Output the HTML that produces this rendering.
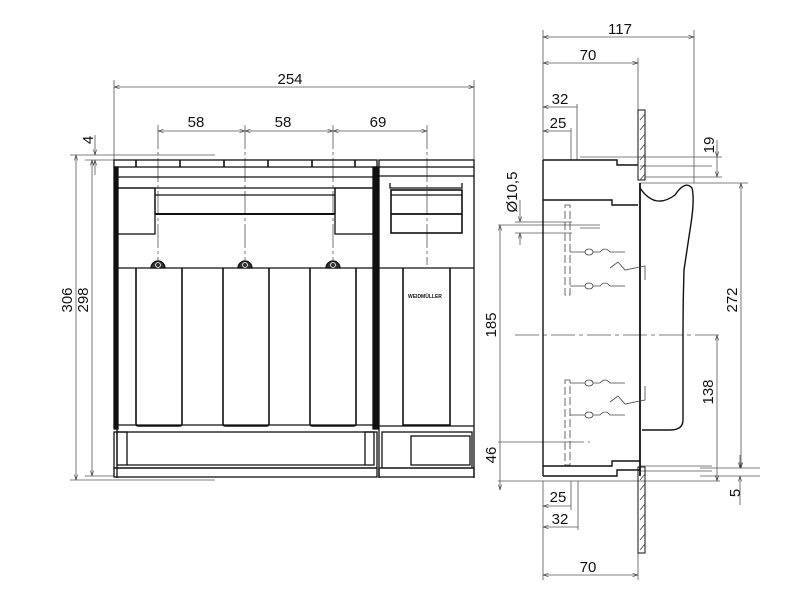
<!DOCTYPE html>
<html><head><meta charset="utf-8"><style>
html,body{margin:0;padding:0;background:#fff;}
svg{display:block}
text{font-family:"Liberation Sans",sans-serif;font-size:15px;fill:#111}
</style></head><body>
<svg width="800" height="600" viewBox="0 0 800 600" xmlns="http://www.w3.org/2000/svg">
<defs>
<marker id="a" viewBox="0 0 10 10" refX="10" refY="5" markerWidth="7" markerHeight="7" orient="auto-start-reverse"><path d="M0,2 L10,5 L0,8" fill="none" stroke="#333" stroke-width="1"/></marker>
</defs>
<g stroke="#555" stroke-width="0.8" fill="none">
<line x1="114" y1="80" x2="114" y2="160"/><line x1="474" y1="80" x2="474" y2="160"/>
<line x1="114" y1="87" x2="474" y2="87" marker-start="url(#a)" marker-end="url(#a)"/>
<line x1="158" y1="131" x2="245" y2="131" marker-start="url(#a)" marker-end="url(#a)"/>
<line x1="245" y1="131" x2="333" y2="131" marker-start="url(#a)" marker-end="url(#a)"/>
<line x1="333" y1="131" x2="427" y2="131" marker-start="url(#a)" marker-end="url(#a)"/>
<g stroke-dasharray="24,3,3,3">
<line x1="158" y1="125" x2="158" y2="265"/><line x1="245" y1="125" x2="245" y2="265"/>
<line x1="333" y1="125" x2="333" y2="265"/><line x1="427" y1="125" x2="427" y2="265"/>
</g>
<line x1="70" y1="155" x2="215" y2="155"/><line x1="85" y1="160" x2="114" y2="160"/>
<line x1="70" y1="480" x2="215" y2="480"/><line x1="85" y1="476" x2="114" y2="476"/>
<line x1="95" y1="135" x2="95" y2="155" marker-end="url(#a)"/>
<line x1="95" y1="175" x2="95" y2="160" marker-end="url(#a)"/>
<line x1="76" y1="155" x2="76" y2="480" marker-start="url(#a)" marker-end="url(#a)"/>
<line x1="92" y1="160" x2="92" y2="476" marker-start="url(#a)" marker-end="url(#a)"/>
<line x1="543" y1="30" x2="543" y2="160"/><line x1="694" y1="30" x2="694" y2="183"/>
<line x1="638" y1="58" x2="638" y2="110"/>
<line x1="543" y1="37" x2="694" y2="37" marker-start="url(#a)" marker-end="url(#a)"/>
<line x1="543" y1="63" x2="638" y2="63" marker-start="url(#a)" marker-end="url(#a)"/>
<line x1="543" y1="107" x2="577" y2="107" marker-start="url(#a)"/><line x1="577" y1="104" x2="577" y2="160"/>
<line x1="543" y1="131" x2="571" y2="131" marker-start="url(#a)"/><line x1="571" y1="128" x2="571" y2="160"/>
<line x1="580" y1="157" x2="722" y2="157"/><line x1="640" y1="166" x2="712" y2="166"/>
<line x1="645" y1="177" x2="722" y2="177"/>
<line x1="717" y1="140" x2="717" y2="157" marker-end="url(#a)"/>
<line x1="717" y1="177" x2="717" y2="157" marker-start="url(#a)"/>
<line x1="640" y1="183" x2="748" y2="183"/>
<line x1="741" y1="183" x2="741" y2="468" marker-start="url(#a)" marker-end="url(#a)"/>
<line x1="640" y1="466" x2="712" y2="466"/><line x1="640" y1="471" x2="712" y2="471"/>
<line x1="700" y1="468" x2="760" y2="468"/><line x1="700" y1="476" x2="760" y2="476"/>
<line x1="740" y1="455" x2="740" y2="468" marker-end="url(#a)"/>
<line x1="740" y1="505" x2="740" y2="476" marker-end="url(#a)"/>
<line x1="717" y1="335" x2="717" y2="481" marker-start="url(#a)" marker-end="url(#a)"/>
<line x1="498" y1="481" x2="720" y2="481"/>
<line x1="498" y1="225" x2="600" y2="225"/>
<line x1="500" y1="225" x2="500" y2="490" marker-start="url(#a)" marker-end="url(#a)"/>
<line x1="498" y1="442" x2="560" y2="442"/>
<line x1="520" y1="200" x2="520" y2="222" marker-end="url(#a)"/>
<line x1="520" y1="245" x2="520" y2="233" marker-end="url(#a)"/>
<line x1="515" y1="222" x2="572" y2="222"/><line x1="515" y1="233" x2="572" y2="233"/>
<line x1="543" y1="481" x2="543" y2="580"/><line x1="638" y1="481" x2="638" y2="580"/>
<line x1="571" y1="481" x2="571" y2="510"/><line x1="578" y1="481" x2="578" y2="530"/>
<line x1="543" y1="506" x2="571" y2="506" marker-start="url(#a)"/>
<line x1="543" y1="527" x2="578" y2="527" marker-start="url(#a)"/>
<line x1="543" y1="575" x2="638" y2="575" marker-start="url(#a)" marker-end="url(#a)"/>
<g stroke-dasharray="24,4,4,4">
<line x1="515" y1="335" x2="720" y2="335"/>
<line x1="560" y1="442" x2="590" y2="442"/>
<line x1="580" y1="228" x2="600" y2="228"/>
</g>
</g>

<g stroke="#111" fill="none" stroke-width="1.3">
<rect x="114" y="160" width="263" height="7"/>
<rect x="379" y="160" width="95" height="7"/>
<g stroke-width="1.6"><line x1="136" y1="160" x2="136" y2="167"/><line x1="180" y1="160" x2="180" y2="167"/><line x1="224" y1="160" x2="224" y2="167"/><line x1="268" y1="160" x2="268" y2="167"/><line x1="312" y1="160" x2="312" y2="167"/><line x1="355" y1="160" x2="355" y2="167"/></g>
<line x1="117" y1="177" x2="377" y2="177"/>
<line x1="117" y1="167" x2="117" y2="478"/>
<rect x="114" y="167" width="4" height="262" fill="#111"/>
<rect x="373" y="167" width="5" height="262" fill="#111"/>
<line x1="474" y1="167" x2="474" y2="478"/>
<line x1="379" y1="167" x2="379" y2="478"/>
<line x1="117" y1="188" x2="377" y2="188"/>
<rect x="117" y="188" width="38" height="46"/>
<rect x="335" y="188" width="40" height="46"/>
<line x1="155" y1="195" x2="335" y2="195"/>
<line x1="155" y1="214" x2="335" y2="214" stroke-width="2"/>
<line x1="155" y1="188" x2="155" y2="214"/><line x1="335" y1="188" x2="335" y2="214"/>
<line x1="117" y1="268" x2="377" y2="268"/>
<line x1="379" y1="268" x2="474" y2="268"/>
<g fill="#333"><path d="M151,268 A7,7 0 0 1 165,268 Z"/><path d="M238,268 A7,7 0 0 1 252,268 Z"/><path d="M326,268 A7,7 0 0 1 340,268 Z"/></g>
<g stroke-width="0.8" stroke="#fff"><circle cx="158" cy="265" r="2.5"/><circle cx="245" cy="265" r="2.5"/><circle cx="333" cy="265" r="2.5"/></g>
<g stroke-width="1.6">
<path d="M136,268 V424 Q136,426 139,426 H179 Q182,426 182,424 V268"/>
<path d="M223,268 V424 Q223,426 226,426 H266 Q269,426 269,424 V268"/>
<path d="M310,268 V424 Q310,426 313,426 H353 Q356,426 356,424 V268"/>
<path d="M403,268 V425 H450 V268"/>
</g>
<line x1="118" y1="425" x2="377" y2="425"/>
<rect x="114" y="432" width="263" height="36"/>
<rect x="117" y="432" width="10" height="33"/><rect x="365" y="432" width="9" height="33"/>
<line x1="127" y1="465" x2="365" y2="465"/>
<line x1="379" y1="426" x2="474" y2="426"/>
<rect x="382" y="432" width="90" height="36"/>
<rect x="411" y="436" width="59" height="29"/>
<rect x="114" y="468" width="263" height="9"/>
<rect x="379" y="468" width="95" height="9"/>
<line x1="379" y1="176" x2="474" y2="176"/>
<path d="M390,183 V188 H462 V183"/>
<rect x="391" y="190" width="71" height="43" stroke-width="1.6"/>
<line x1="391" y1="195" x2="462" y2="195"/>
<line x1="391" y1="214" x2="462" y2="214" stroke-width="1.8"/>
</g>
<text x="408" y="298" style="font-size:5px;font-weight:bold">WEIDMÜLLER</text>

<g stroke="#111" fill="none" stroke-width="1.4">
<path d="M543,160 H617 V165 H638"/>
<path d="M543,200 H612 V205 H638"/>
<line x1="543" y1="160" x2="543" y2="476"/>
<line x1="640" y1="183" x2="640" y2="476" stroke-width="1.8"/>
<path d="M543,466 H612 V461 H640"/>
<path d="M543,476 H617 V470 H640"/>
<path d="M640,188 Q655,210 675,195 Q685,180 692,188 Q695,200 690,230 L684,270 Q683,300 683,330 V420 Q683,430 670,430 H642"/>
<rect x="638" y="110" width="7" height="70" stroke-width="1"/>
<rect x="638" y="467" width="7" height="86" stroke-width="1"/>
</g>
<g stroke="#444" stroke-width="0.8" fill="none">
<path d="M640,120 l5,-6 M640,130 l5,-6 M640,140 l5,-6 M640,150 l5,-6 M640,160 l5,-6 M640,170 l5,-6 M640,180 l5,-6"/>
<path d="M640,480 l5,-6 M640,490 l5,-6 M640,500 l5,-6 M640,510 l5,-6 M640,520 l5,-6 M640,530 l5,-6 M640,540 l5,-6 M640,550 l5,-6"/>
<rect x="565" y="205" width="5" height="90" stroke-dasharray="8,3"/>
<rect x="565" y="380" width="5" height="85" stroke-dasharray="8,3"/>
<path d="M570,252 H585 M593,252 H600 Q605,246 610,252 H625"/><ellipse cx="589" cy="252" rx="4" ry="3"/>
<path d="M570,286 H585 M593,286 H600 Q605,280 610,286 H625"/><ellipse cx="589" cy="286" rx="4" ry="3"/>
<path d="M610,268 L618,262 L625,270 L645,266 V280"/>
<path d="M570,383 H585 M593,383 H600 Q605,377 610,383 H625"/><ellipse cx="589" cy="383" rx="4" ry="3"/>
<path d="M570,415 H585 M593,415 H600 Q605,409 610,415 H625"/><ellipse cx="589" cy="415" rx="4" ry="3"/>
<path d="M610,402 L618,396 L625,404 L645,400 V386"/>
</g>

<text x="290" y="84" text-anchor="middle">254</text>
<text x="196" y="127" text-anchor="middle">58</text>
<text x="283" y="127" text-anchor="middle">58</text>
<text x="378" y="127" text-anchor="middle">69</text>
<text transform="translate(93,140) rotate(-90)" text-anchor="middle">4</text>
<text transform="translate(72,300) rotate(-90)" text-anchor="middle">306</text>
<text transform="translate(88,300) rotate(-90)" text-anchor="middle">298</text>
<text x="620" y="34" text-anchor="middle">117</text>
<text x="588" y="60" text-anchor="middle">70</text>
<text x="560" y="104" text-anchor="middle">32</text>
<text x="558" y="128" text-anchor="middle">25</text>
<text transform="translate(714,145) rotate(-90)" text-anchor="middle">19</text>
<text transform="translate(517,192) rotate(-90)" text-anchor="middle">Ø10,5</text>
<text transform="translate(737,300) rotate(-90)" text-anchor="middle">272</text>
<text transform="translate(496,325) rotate(-90)" text-anchor="middle">185</text>
<text transform="translate(713,392) rotate(-90)" text-anchor="middle">138</text>
<text transform="translate(496,455) rotate(-90)" text-anchor="middle">46</text>
<text transform="translate(740,493) rotate(-90)" text-anchor="middle">5</text>
<text x="558" y="502" text-anchor="middle">25</text>
<text x="560" y="524" text-anchor="middle">32</text>
<text x="588" y="572" text-anchor="middle">70</text>
</svg>
</body></html>
